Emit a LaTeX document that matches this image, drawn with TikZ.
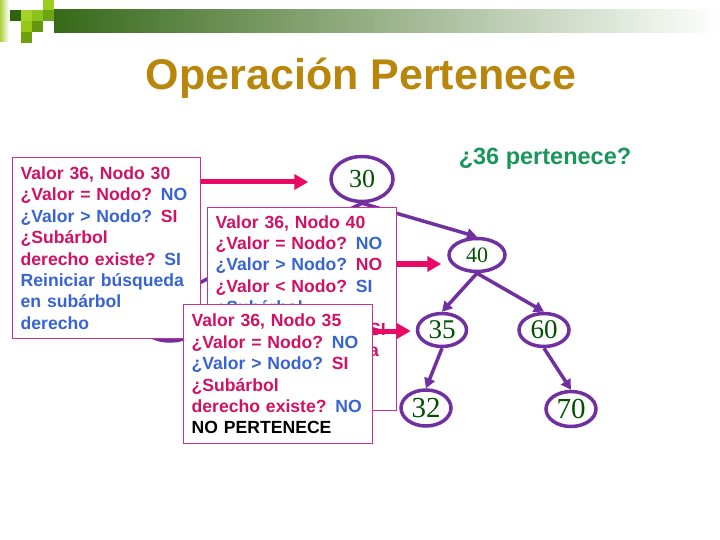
\documentclass[tikz,border=0pt]{standalone}
\usepackage{fontspec}
\setmainfont{Liberation Sans}
\newfontfamily\numfont{Liberation Serif}
\usetikzlibrary{arrows.meta,shapes.geometric}
\definecolor{mag}{RGB}{208,18,100}
\definecolor{blu}{RGB}{55,100,210}
\definecolor{boxc}{RGB}{200,50,140}
\definecolor{arrc}{RGB}{232,10,100}
\definecolor{purp}{RGB}{112,48,160}
\definecolor{numc}{RGB}{0,80,0}
\definecolor{greenc}{RGB}{25,150,90}
\definecolor{titlec}{RGB}{184,134,11}
\definecolor{barc}{RGB}{55,105,25}
\definecolor{stripc}{RGB}{170,210,60}
\definecolor{sqa}{RGB}{155,205,30}
\definecolor{sqb}{RGB}{45,100,10}
\definecolor{sqc}{RGB}{165,210,40}
\definecolor{sqd}{RGB}{140,195,25}
\definecolor{sqe}{RGB}{110,165,20}
\definecolor{sqf}{RGB}{150,200,20}
\definecolor{sqg}{RGB}{100,150,15}
\definecolor{sqh}{RGB}{110,160,10}
\newcommand{\Mg}[1]{\textcolor{mag}{#1}}
\newcommand{\Bl}[1]{\textcolor{blu}{#1}}
\tikzset{
  treenode/.style={ellipse, draw=purp, line width=3.5bp, fill=white, inner sep=0pt, text=numc},
  edge/.style={draw=purp, line width=3.5bp, -{Triangle[length=10bp,width=11bp]}},
  marrow/.style={draw=arrc, line width=5bp, -{Triangle[length=14bp,width=15bp]}},
  infobox/.style={rectangle, draw=boxc, line width=1.3bp, fill=white, anchor=north west,
    inner xsep=8bp, inner ysep=0pt, align=left, text width=173bp,
    font=\bfseries\fontsize{17.6bp}{21.4bp}\selectfont}
}
\begin{document}
\begin{tikzpicture}[x=1bp,y=-1bp]
\useasboundingbox (0,0) rectangle (720,540);
\fill[white] (0,0) rectangle (720,540);
% header
\shade[left color=stripc, right color=white] (0,0) rectangle (9,42);
\shade[left color=barc, right color=white] (54,10) rectangle (720,33);
\fill[sqa] (43,0) rectangle (54,10);
\fill[sqb] (10,10) rectangle (21,21);
\fill[sqc] (21,10) rectangle (32,21);
\fill[sqd] (32,10) rectangle (43,21);
\fill[sqe] (43,10) rectangle (54,21);
\fill[sqf] (21,21) rectangle (32,32);
\fill[sqg] (32,21) rectangle (43,32);
\fill[sqh] (21,32) rectangle (32,43);
% title
\node[anchor=base, text=titlec, font=\bfseries\fontsize{43bp}{50bp}\selectfont] (title) at (361,90) {Operación Pertenece};
\node[anchor=base, text=greenc, font=\bfseries\fontsize{23.5bp}{28bp}\selectfont] (question) at (545,165) {¿36 pertenece?};
% tree nodes
\node[treenode, minimum width=62bp, minimum height=45bp, font=\numfont\fontsize{26bp}{28bp}\selectfont] (n30) at (362,179) {30};
\node[treenode, minimum width=62bp, minimum height=42bp] (n20) at (170,320) {};
\node[treenode, minimum width=56bp, minimum height=33bp, font=\numfont\fontsize{22bp}{26bp}\selectfont] (n40) at (477,255) {40};
\node[treenode, minimum width=49bp, minimum height=33bp, font=\numfont\fontsize{27bp}{30bp}\selectfont] (n35) at (442,330) {35};
\node[treenode, minimum width=50bp, minimum height=33bp, font=\numfont\fontsize{27bp}{30bp}\selectfont] (n60) at (544,330) {60};
\node[treenode, minimum width=50bp, minimum height=36bp, font=\numfont\fontsize{29bp}{32bp}\selectfont] (n32) at (426,408) {32};
\node[treenode, minimum width=50bp, minimum height=35bp, font=\numfont\fontsize{29bp}{32bp}\selectfont] (n70) at (571,409) {70};
% edges
\draw[edge] (n30.south) -- (n20.north);
\draw[edge] (n30.south) -- (n40.north);
\draw[edge] (n40.south) -- (n35.north);
\draw[edge] (n40.south) -- (n60.north);
\draw[edge] (n35.south) -- (n32.north);
\draw[edge] (n60.south) -- (n70.north);
% boxes
\node[infobox, text width=172bp, minimum height=181bp] (b1) at (12,157) {%
\Mg{Valor 36, Nodo 30}\\
\Mg{¿Valor = Nodo?} \Bl{NO}\\
\Bl{¿Valor > Nodo?} \Mg{SI}\\
\Mg{¿Subárbol}\\
\Mg{derecho existe?} \Bl{SI}\\
\Bl{Reiniciar búsqueda}\\
\Bl{en subárbol}\\
\Bl{derecho}};
\node[infobox, minimum height=203bp] (b2) at (207,207) {%
\Mg{Valor 36, Nodo 40}\\
\Mg{¿Valor = Nodo?} \Bl{NO}\\
\Bl{¿Valor > Nodo?} \Mg{NO}\\
\Mg{¿Valor < Nodo?} \Bl{SI}\\
\Bl{¿Subárbol}\\
\Bl{izquierdo existe?} \Mg{SI}\\
\Mg{Reiniciar búsqueda}\\
\Mg{en subárbol}\\
\Mg{izquierdo}};
\node[infobox, minimum height=139bp] (b3) at (183,304) {%
\Mg{Valor 36, Nodo 35}\\
\Mg{¿Valor = Nodo?} \Bl{NO}\\
\Bl{¿Valor > Nodo?} \Mg{SI}\\
\Mg{¿Subárbol}\\
\Mg{derecho existe?} \Bl{NO}\\
NO PERTENECE};
% magenta arrows
\coordinate (a1) at (b1.east |- 0,182);
\coordinate (a2) at (b2.east |- 0,264);
\coordinate (a3) at (b3.east |- 0,331);
\draw[marrow, shorten >=21bp] (a1) -- (n30.west |- a1);
\draw[marrow, shorten >=6bp] (a2) -- (n40.west |- a2);
\draw[marrow, shorten >=5bp] (a3) -- (n35.west |- a3);
\end{tikzpicture}
\end{document}
